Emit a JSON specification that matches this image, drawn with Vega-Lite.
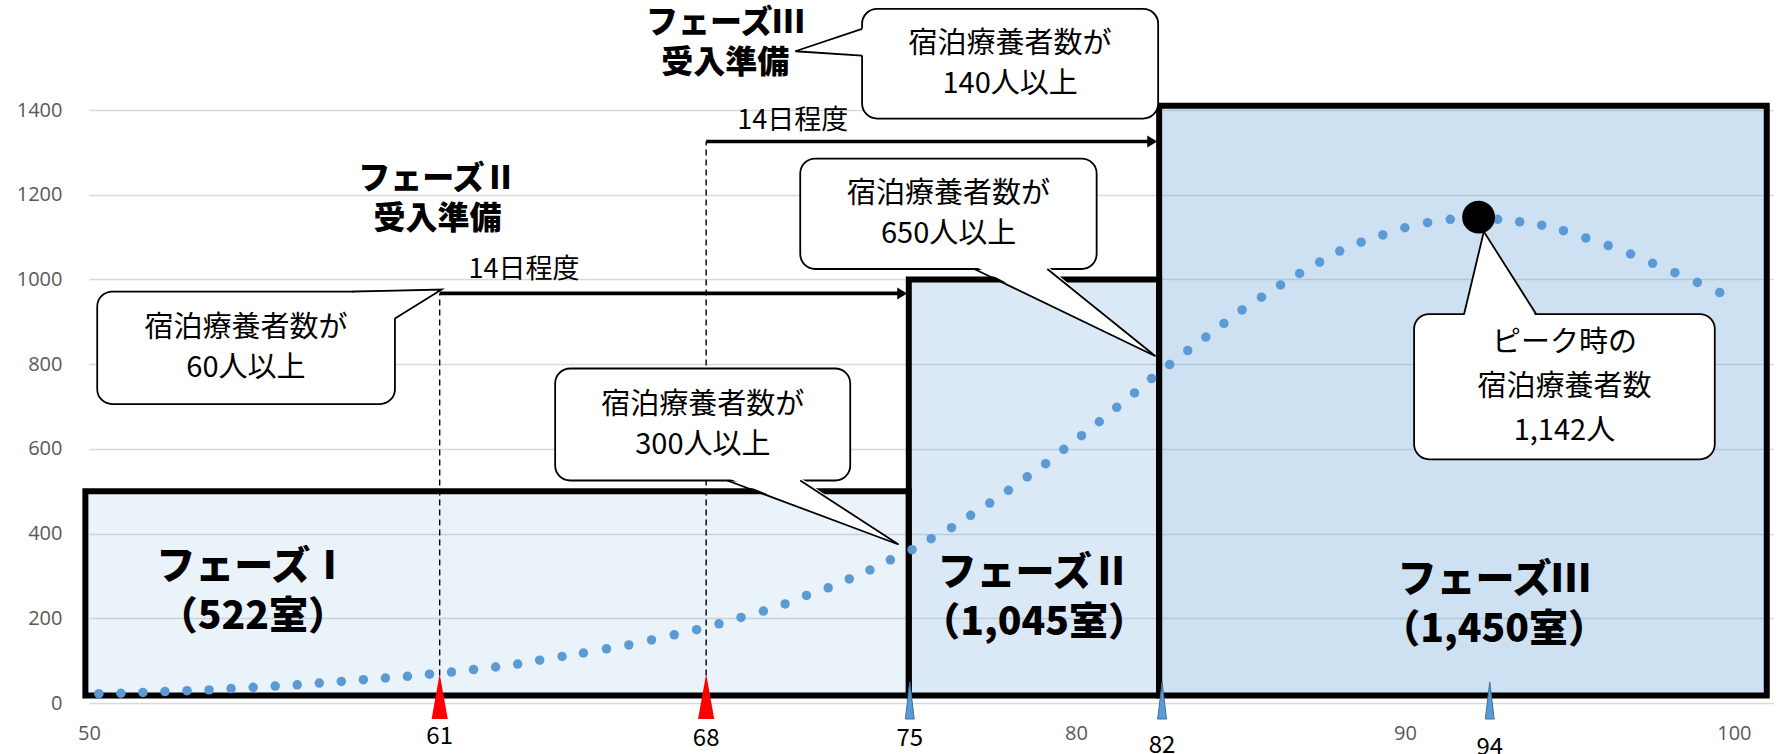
{
  "$schema": "https://vega.github.io/schema/vega-lite/v6.json",
  "width": 1684,
  "height": 593,
  "autosize": {"type": "none"},
  "padding": {"left": 89, "top": 110, "right": 6, "bottom": 51},
  "background": "white",
  "config": {"view": {"stroke": null}, "font": "Noto Sans CJK JP"},
  "datasets": {
    "phases": [
      {"x": 49.89, "x2": 74.92, "y": 17.7, "y2": 500, "p": "I"},
      {"x": 74.92, "x2": 82.53, "y": 17.7, "y2": 1000, "p": "II"},
      {"x": 82.53, "x2": 101.0, "y": 17.7, "y2": 1410, "p": "III"}
    ],
    "vlines": [
      {"x": 60.66, "y": 17.7, "y2": 967},
      {"x": 68.76, "y": 17.7, "y2": 1325.7}
    ],
    "dots": [
      {"x": 50.30, "y": 22}, {"x": 50.97, "y": 23}, {"x": 51.64, "y": 25}, {"x": 52.31, "y": 27},
      {"x": 52.98, "y": 29}, {"x": 53.65, "y": 31}, {"x": 54.32, "y": 34}, {"x": 54.99, "y": 37},
      {"x": 55.66, "y": 40}, {"x": 56.33, "y": 43}, {"x": 57.00, "y": 47}, {"x": 57.67, "y": 51},
      {"x": 58.34, "y": 55}, {"x": 59.01, "y": 59}, {"x": 59.68, "y": 63}, {"x": 60.35, "y": 68},
      {"x": 61.02, "y": 73}, {"x": 61.69, "y": 79}, {"x": 62.36, "y": 85}, {"x": 63.03, "y": 92},
      {"x": 63.70, "y": 101}, {"x": 64.38, "y": 110}, {"x": 65.03, "y": 118}, {"x": 65.73, "y": 128},
      {"x": 66.41, "y": 137}, {"x": 67.10, "y": 149}, {"x": 67.79, "y": 161}, {"x": 68.47, "y": 173},
      {"x": 69.15, "y": 187}, {"x": 69.82, "y": 202}, {"x": 70.50, "y": 217}, {"x": 71.16, "y": 234},
      {"x": 71.81, "y": 254}, {"x": 72.47, "y": 272}, {"x": 73.11, "y": 293}, {"x": 73.74, "y": 314},
      {"x": 74.36, "y": 338}, {"x": 75.02, "y": 362}, {"x": 75.60, "y": 388}, {"x": 76.22, "y": 414},
      {"x": 76.80, "y": 443}, {"x": 77.38, "y": 472}, {"x": 77.95, "y": 502}, {"x": 78.52, "y": 534},
      {"x": 79.08, "y": 565}, {"x": 79.63, "y": 599}, {"x": 80.17, "y": 631}, {"x": 80.71, "y": 664},
      {"x": 81.24, "y": 698}, {"x": 81.78, "y": 732}, {"x": 82.30, "y": 766}, {"x": 82.85, "y": 799},
      {"x": 83.40, "y": 832}, {"x": 83.95, "y": 864}, {"x": 84.50, "y": 896}, {"x": 85.05, "y": 928},
      {"x": 85.64, "y": 958}, {"x": 86.22, "y": 987}, {"x": 86.80, "y": 1014}, {"x": 87.41, "y": 1041},
      {"x": 88.02, "y": 1067}, {"x": 88.67, "y": 1088}, {"x": 89.33, "y": 1105}, {"x": 90.00, "y": 1122},
      {"x": 90.69, "y": 1134}, {"x": 91.38, "y": 1142}, {"x": 92.22, "y": 1147}, {"x": 92.82, "y": 1142},
      {"x": 93.49, "y": 1136}, {"x": 94.16, "y": 1128}, {"x": 94.82, "y": 1115}, {"x": 95.50, "y": 1098},
      {"x": 96.18, "y": 1080}, {"x": 96.86, "y": 1060}, {"x": 97.53, "y": 1038}, {"x": 98.21, "y": 1016},
      {"x": 98.89, "y": 993}, {"x": 99.57, "y": 969}
    ],
    "peak": [{"x": 92.24, "y": 1147}],
    "arrows": [
      {"x": 60.66, "x2": 74.72, "y": 967},
      {"x": 68.76, "x2": 82.32, "y": 1325.7}
    ],
    "boxes": [
      {"id": "A", "x": 50.25, "x2": 59.30, "y": 705.6, "y2": 971.4},
      {"id": "B", "x": 64.17, "x2": 73.14, "y": 525.3, "y2": 789.7},
      {"id": "C", "x": 71.62, "x2": 80.63, "y": 1024.6, "y2": 1285.4},
      {"id": "D", "x": 73.50, "x2": 82.50, "y": 1379.8, "y2": 1638.8},
      {"id": "E", "x": 90.28, "x2": 99.42, "y": 575.3, "y2": 918.3}
    ],
    "tailFill": [
      {"id": "A", "x": 58.00, "y": 971.4, "y2": 971.4},
      {"id": "A", "x": 59.30, "y": 973.8, "y2": 907.7},
      {"id": "A", "x": 60.72, "y": 976, "y2": 976},
      {"id": "B", "x": 69.40, "y": 532, "y2": 532},
      {"id": "B", "x": 71.62, "y": 532, "y2": 460.8},
      {"id": "B", "x": 74.61, "y": 374.2, "y2": 374.2},
      {"id": "C", "x": 76.91, "y": 1031.6, "y2": 1031.6},
      {"id": "C", "x": 79.13, "y": 1031.6, "y2": 941.7},
      {"id": "C", "x": 82.42, "y": 818.7, "y2": 818.7},
      {"id": "D", "x": 71.47, "y": 1538.7, "y2": 1538.7},
      {"id": "D", "x": 73.59, "y": 1594, "y2": 1528.1},
      {"id": "E", "x": 91.80, "y": 911.2, "y2": 911.2},
      {"id": "E", "x": 92.40, "y": 1113, "y2": 911.2},
      {"id": "E", "x": 93.99, "y": 911.2, "y2": 911.2}
    ],
    "tailEdge": [
      {"id": "A", "o": 1, "x": 58.00, "y": 971.4},
      {"id": "A", "o": 2, "x": 60.72, "y": 976},
      {"id": "A", "o": 3, "x": 59.30, "y": 907.7},
      {"id": "B", "o": 1, "x": 69.40, "y": 525.3},
      {"id": "B", "o": 2, "x": 74.61, "y": 374.2},
      {"id": "B", "o": 3, "x": 71.62, "y": 525.3},
      {"id": "C", "o": 1, "x": 76.91, "y": 1024.6},
      {"id": "C", "o": 2, "x": 82.42, "y": 818.7},
      {"id": "C", "o": 3, "x": 79.13, "y": 1024.6},
      {"id": "D", "o": 1, "x": 73.50, "y": 1591.6},
      {"id": "D", "o": 2, "x": 71.47, "y": 1538.7},
      {"id": "D", "o": 3, "x": 73.50, "y": 1528.6},
      {"id": "E", "o": 1, "x": 91.80, "y": 918.3},
      {"id": "E", "o": 2, "x": 92.40, "y": 1113},
      {"id": "E", "o": 3, "x": 93.99, "y": 918.3}
    ],
    "calloutText": [
      {"x": 54.77, "y": 838.5, "t": "宿泊療養者数が\n60人以上"},
      {"x": 68.66, "y": 657.5, "t": "宿泊療養者数が\n300人以上"},
      {"x": 76.13, "y": 1155, "t": "宿泊療養者数が\n650人以上"},
      {"x": 78.0, "y": 1509.3, "t": "宿泊療養者数が\n140人以上"}
    ],
    "peakText": [
      {"x": 94.85, "y": 746.8, "t": "ピーク時の\n宿泊療養者数\n1,142人"}
    ],
    "titleText": [
      {"x": 60.59, "y": 1190, "t": "フェーズⅡ\n受入準備"},
      {"x": 69.34, "y": 1558, "t": "フェーズⅢ\n受入準備"}
    ],
    "daysText": [
      {"x": 63.22, "y": 1023, "t": "14日程度"},
      {"x": 71.39, "y": 1375, "t": "14日程度"}
    ],
    "phaseText": [
      {"x": 54.98, "y": 261, "t": "フェーズⅠ\n（522室）"},
      {"x": 78.73, "y": 248, "t": "フェーズⅡ\n（1,045室）"},
      {"x": 92.71, "y": 232.5, "t": "フェーズⅢ\n（1,450室）"}
    ],
    "redMarks": [
      {"x": 60.66, "y": 15.3},
      {"x": 68.76, "y": 15.3}
    ],
    "blueMarks": [
      {"x": 74.95, "y": 5.9},
      {"x": 82.62, "y": 5.9},
      {"x": 92.58, "y": 5.9}
    ],
    "markLabels": [
      {"x": 60.66, "y": -81, "t": "61"},
      {"x": 68.76, "y": -86, "t": "68"},
      {"x": 74.95, "y": -86, "t": "75"},
      {"x": 82.62, "y": -102, "t": "82"},
      {"x": 92.58, "y": -107, "t": "94"}
    ]
  },
  "layer": [
    {
      "data": {"name": "phases"},
      "mark": {"type": "rect", "stroke": "black", "strokeWidth": 6},
      "encoding": {
        "x": {"field": "x", "type": "quantitative", "scale": {"domain": [50, 101.19], "nice": false, "zero": false},
              "axis": {"values": [50, 80, 90, 100], "format": "d", "labelFlush": false, "grid": false, "domain": false, "ticks": false, "tickSize": 0, "labelPadding": 20, "labelFontSize": 20, "labelColor": "#595959", "labelFont": "Open Sans", "title": null}},
        "x2": {"field": "x2"},
        "y": {"field": "y", "type": "quantitative", "scale": {"domain": [0, 1400], "nice": false, "zero": false},
              "axis": {"values": [0, 200, 400, 600, 800, 1000, 1200, 1400], "format": "d", "grid": true, "gridColor": "#D9D9D9", "gridWidth": 1.3, "domain": false, "ticks": false, "tickSize": 0, "labelPadding": 27, "labelFontSize": 20, "labelColor": "#595959", "labelFont": "Open Sans", "title": null}},
        "y2": {"field": "y2"},
        "color": {"field": "p", "type": "nominal", "legend": null,
                  "scale": {"domain": ["I", "II", "III"], "range": ["rgba(91,155,213,0.13)", "rgba(91,155,213,0.22)", "rgba(91,155,213,0.30)"]}}
      }
    },
    {
      "data": {"name": "vlines"},
      "mark": {"type": "rule", "color": "black", "strokeWidth": 1.4, "strokeDash": [6, 4]},
      "encoding": {
        "x": {"field": "x", "type": "quantitative"},
        "y": {"field": "y", "type": "quantitative"},
        "y2": {"field": "y2"}
      }
    },
    {
      "data": {"name": "dots"},
      "mark": {"type": "circle", "color": "#5B9BD5", "opacity": 1, "size": 90},
      "encoding": {
        "x": {"field": "x", "type": "quantitative"},
        "y": {"field": "y", "type": "quantitative"}
      }
    },
    {
      "data": {"name": "arrows"},
      "mark": {"type": "rule", "color": "black", "strokeWidth": 3.6},
      "encoding": {
        "x": {"field": "x", "type": "quantitative"},
        "x2": {"field": "x2"},
        "y": {"field": "y", "type": "quantitative"}
      }
    },
    {
      "data": {"name": "arrows"},
      "mark": {"type": "point", "shape": "M0.83,0L-0.83,-1L-0.83,1Z", "filled": true, "color": "black", "opacity": 1, "size": 144},
      "encoding": {
        "x": {"field": "x2", "type": "quantitative"},
        "y": {"field": "y", "type": "quantitative"}
      }
    },
    {
      "data": {"name": "boxes"},
      "mark": {"type": "rect", "fill": "white", "stroke": "black", "strokeWidth": 1.8, "cornerRadius": 15},
      "encoding": {
        "x": {"field": "x", "type": "quantitative"},
        "x2": {"field": "x2"},
        "y": {"field": "y", "type": "quantitative"},
        "y2": {"field": "y2"}
      }
    },
    {
      "data": {"name": "tailFill"},
      "mark": {"type": "area", "fill": "white", "opacity": 1, "interpolate": "linear"},
      "encoding": {
        "x": {"field": "x", "type": "quantitative"},
        "y": {"field": "y", "type": "quantitative"},
        "y2": {"field": "y2"},
        "detail": {"field": "id", "type": "nominal"}
      }
    },
    {
      "data": {"name": "tailEdge"},
      "mark": {"type": "line", "color": "black", "strokeWidth": 1.8},
      "encoding": {
        "x": {"field": "x", "type": "quantitative"},
        "y": {"field": "y", "type": "quantitative"},
        "detail": {"field": "id", "type": "nominal"},
        "order": {"field": "o", "type": "quantitative"}
      }
    },
    {
      "data": {"name": "peak"},
      "mark": {"type": "circle", "color": "black", "opacity": 1, "size": 1075},
      "encoding": {
        "x": {"field": "x", "type": "quantitative"},
        "y": {"field": "y", "type": "quantitative"}
      }
    },
    {
      "data": {"name": "calloutText"},
      "mark": {"type": "text", "font": "Noto Sans CJK JP", "fontSize": 29, "lineBreak": "\n", "lineHeight": 40, "dy": -20, "align": "center", "baseline": "middle", "color": "black"},
      "encoding": {
        "x": {"field": "x", "type": "quantitative"},
        "y": {"field": "y", "type": "quantitative"},
        "text": {"field": "t"}
      }
    },
    {
      "data": {"name": "peakText"},
      "mark": {"type": "text", "font": "Noto Sans CJK JP", "fontSize": 29, "lineBreak": "\n", "lineHeight": 44, "dy": -44, "align": "center", "baseline": "middle", "color": "black"},
      "encoding": {
        "x": {"field": "x", "type": "quantitative"},
        "y": {"field": "y", "type": "quantitative"},
        "text": {"field": "t"}
      }
    },
    {
      "data": {"name": "titleText"},
      "mark": {"type": "text", "font": "Noto Sans CJK JP", "fontSize": 32, "fontWeight": 900, "lineBreak": "\n", "lineHeight": 40, "dy": -20, "align": "center", "baseline": "middle", "color": "black"},
      "encoding": {
        "x": {"field": "x", "type": "quantitative"},
        "y": {"field": "y", "type": "quantitative"},
        "text": {"field": "t"}
      }
    },
    {
      "data": {"name": "daysText"},
      "mark": {"type": "text", "font": "Noto Sans CJK JP", "fontSize": 27, "letterSpacing": 1.5, "align": "center", "baseline": "middle", "color": "black"},
      "encoding": {
        "x": {"field": "x", "type": "quantitative"},
        "y": {"field": "y", "type": "quantitative"},
        "text": {"field": "t"}
      }
    },
    {
      "data": {"name": "phaseText"},
      "mark": {"type": "text", "font": "Noto Sans CJK JP", "fontSize": 39, "fontWeight": 900, "lineBreak": "\n", "lineHeight": 50, "dy": -25, "align": "center", "baseline": "middle", "color": "black"},
      "encoding": {
        "x": {"field": "x", "type": "quantitative"},
        "y": {"field": "y", "type": "quantitative"},
        "text": {"field": "t"}
      }
    },
    {
      "data": {"name": "redMarks"},
      "mark": {"type": "point", "shape": "M0,-1L0.36,1L-0.36,1Z", "filled": true, "color": "#FF0000", "opacity": 1, "size": 2025},
      "encoding": {
        "x": {"field": "x", "type": "quantitative"},
        "y": {"field": "y", "type": "quantitative"}
      }
    },
    {
      "data": {"name": "blueMarks"},
      "mark": {"type": "point", "shape": "M0,-1L0.24,1L-0.24,1Z", "filled": true, "fill": "#5B9BD5", "stroke": "#41719C", "strokeWidth": 1, "opacity": 1, "size": 1369},
      "encoding": {
        "x": {"field": "x", "type": "quantitative"},
        "y": {"field": "y", "type": "quantitative"}
      }
    },
    {
      "data": {"name": "markLabels"},
      "mark": {"type": "text", "font": "Noto Sans CJK JP", "fontSize": 24, "align": "center", "baseline": "middle", "color": "black"},
      "encoding": {
        "x": {"field": "x", "type": "quantitative"},
        "y": {"field": "y", "type": "quantitative"},
        "text": {"field": "t"}
      }
    }
  ]
}
